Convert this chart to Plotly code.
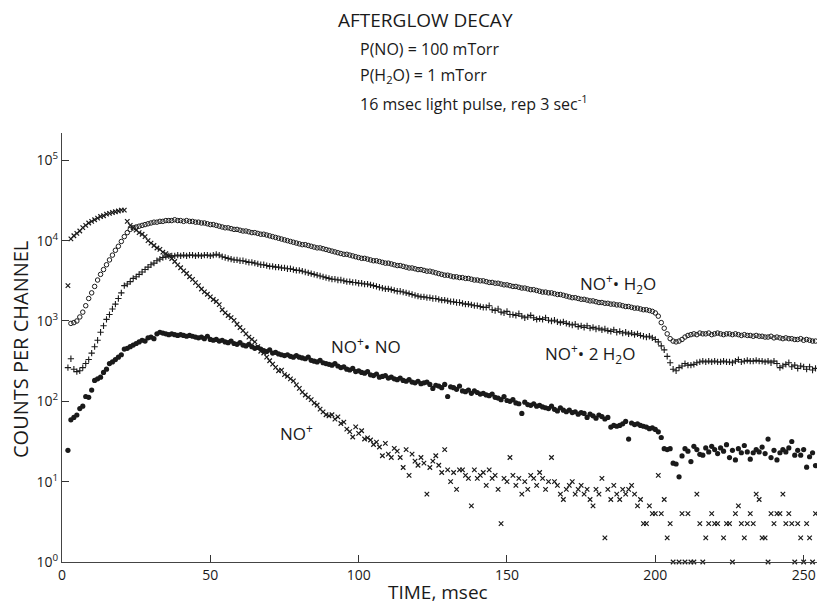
import plotly.graph_objects as go

# ---------------- data ----------------
# time axis: one channel per msec; each series lists values from its first channel
x_tick_vals = [0, 50, 100, 150, 200, 250]
x_tick_text = ["0", "50", "100", "150", "200", "250"]
y_tick_vals = [1, 10, 100, 1000, 10000, 100000]
y_tick_text = ["10<sup>0</sup>", "10<sup>1</sup>", "10<sup>2</sup>",
               "10<sup>3</sup>", "10<sup>4</sup>", "10<sup>5</sup>"]

# NO+ . H2O  (open circles), log10(counts), channels 3..254
h2o_start = 3
no_h2o_log = [
    2.97, 2.98, 3.00, 3.05, 3.11, 3.19, 3.28, 3.35, 3.43, 3.51,
    3.58, 3.64, 3.70, 3.76, 3.82, 3.88, 3.93, 3.99, 4.05, 4.10,
    4.14, 4.16, 4.17, 4.18, 4.19, 4.20, 4.21, 4.22, 4.23, 4.23,
    4.24, 4.24, 4.25, 4.25, 4.25, 4.26, 4.25, 4.25, 4.24, 4.25,
    4.24, 4.24, 4.23, 4.23, 4.22, 4.22, 4.21, 4.20, 4.20, 4.19,
    4.18, 4.17, 4.16, 4.16, 4.15, 4.14, 4.14, 4.13, 4.12, 4.12,
    4.11, 4.10, 4.10, 4.09, 4.08, 4.08, 4.07, 4.06, 4.05, 4.04,
    4.03, 4.02, 4.01, 4.00, 3.99, 3.98, 3.97, 3.96, 3.95, 3.95,
    3.94, 3.93, 3.92, 3.91, 3.91, 3.90, 3.89, 3.88, 3.87, 3.86,
    3.85, 3.84, 3.83, 3.83, 3.82, 3.81, 3.80, 3.79, 3.78, 3.78,
    3.77, 3.76, 3.75, 3.75, 3.74, 3.73, 3.72, 3.72, 3.71, 3.70,
    3.69, 3.69, 3.68, 3.67, 3.66, 3.66, 3.65, 3.64, 3.64, 3.63,
    3.62, 3.62, 3.61, 3.60, 3.59, 3.58, 3.57, 3.57, 3.56, 3.55,
    3.55, 3.54, 3.54, 3.53, 3.53, 3.52, 3.51, 3.51, 3.50, 3.50,
    3.49, 3.48, 3.48, 3.47, 3.47, 3.46, 3.45, 3.45, 3.44, 3.43,
    3.43, 3.42, 3.41, 3.41, 3.40, 3.39, 3.39, 3.38, 3.37, 3.36,
    3.36, 3.35, 3.35, 3.34, 3.33, 3.33, 3.32, 3.31, 3.30, 3.29,
    3.29, 3.28, 3.27, 3.27, 3.26, 3.25, 3.25, 3.24, 3.23, 3.23,
    3.22, 3.22, 3.21, 3.21, 3.20, 3.20, 3.19, 3.18, 3.18, 3.17,
    3.16, 3.16, 3.15, 3.14, 3.14, 3.13, 3.12, 3.10, 3.06, 2.98,
    2.91, 2.84, 2.78, 2.75, 2.74, 2.75, 2.77, 2.80, 2.82, 2.83,
    2.84, 2.83, 2.85, 2.84, 2.84, 2.85, 2.83, 2.84, 2.85, 2.84,
    2.83, 2.84, 2.84, 2.83, 2.84, 2.83, 2.82, 2.83, 2.82, 2.82,
    2.81, 2.82, 2.81, 2.81, 2.80, 2.80, 2.81, 2.79, 2.80, 2.79,
    2.78, 2.79, 2.78, 2.78, 2.77, 2.77, 2.78, 2.76, 2.77, 2.76,
    2.75, 2.75,
]

# NO+ . 2 H2O  (plus signs), log10(counts), channels 2..254
h2o2_start = 2
no_2h2o_log = [
    2.42, 2.53, 2.40, 2.37, 2.38, 2.42, 2.47, 2.52, 2.60, 2.68,
    2.76, 2.86, 2.94, 3.02, 3.08, 3.15, 3.21, 3.28, 3.35, 3.44,
    3.46, 3.49, 3.53, 3.55, 3.58, 3.61, 3.64, 3.67, 3.70, 3.72,
    3.75, 3.77, 3.79, 3.80, 3.81, 3.81, 3.81, 3.82, 3.81, 3.82,
    3.81, 3.82, 3.82, 3.81, 3.82, 3.81, 3.82, 3.82, 3.81, 3.82,
    3.83, 3.82, 3.80, 3.79, 3.78, 3.77, 3.76, 3.76, 3.75, 3.75,
    3.74, 3.73, 3.73, 3.72, 3.71, 3.70, 3.70, 3.69, 3.68, 3.68,
    3.67, 3.67, 3.66, 3.66, 3.65, 3.65, 3.64, 3.63, 3.63, 3.62,
    3.61, 3.60, 3.59, 3.58, 3.57, 3.56, 3.55, 3.54, 3.53, 3.52,
    3.52, 3.51, 3.51, 3.50, 3.49, 3.49, 3.48, 3.48, 3.47, 3.47,
    3.46, 3.46, 3.45, 3.44, 3.43, 3.42, 3.41, 3.40, 3.40, 3.39,
    3.38, 3.37, 3.37, 3.36, 3.35, 3.34, 3.33, 3.32, 3.31, 3.30,
    3.30, 3.29, 3.29, 3.28, 3.28, 3.27, 3.26, 3.26, 3.25, 3.24,
    3.24, 3.23, 3.23, 3.22, 3.21, 3.21, 3.20, 3.19, 3.19, 3.18,
    3.17, 3.17, 3.19, 3.14, 3.13, 3.15, 3.11, 3.10, 3.12, 3.08,
    3.08, 3.07, 3.09, 3.06, 3.04, 3.05, 3.07, 3.04, 3.02, 3.03,
    3.02, 3.04, 3.01, 3.00, 3.01, 2.99, 2.98, 2.99, 2.97, 2.96,
    2.95, 2.96, 2.93, 2.94, 2.92, 2.94, 2.91, 2.92, 2.90, 2.91,
    2.89, 2.90, 2.88, 2.87, 2.89, 2.86, 2.87, 2.85, 2.86, 2.84,
    2.85, 2.83, 2.84, 2.82, 2.81, 2.80, 2.81, 2.79, 2.77, 2.74,
    2.69, 2.64, 2.56, 2.48, 2.40, 2.38, 2.42, 2.44, 2.47, 2.45,
    2.45, 2.46, 2.48, 2.49, 2.50, 2.49, 2.50, 2.49, 2.50, 2.49,
    2.49, 2.50, 2.49, 2.49, 2.48, 2.50, 2.52, 2.49, 2.50, 2.51,
    2.50, 2.50, 2.51, 2.50, 2.50, 2.49, 2.50, 2.48, 2.50, 2.47,
    2.42, 2.44, 2.46, 2.48, 2.43, 2.45, 2.41, 2.44, 2.43, 2.40,
    2.43, 2.39, 2.41,
]

# NO+ . NO  (filled dots), log10(counts), channels 2..254
nono_start = 2
no_no_log = [
    1.39, 1.77, 1.80, 1.83, 1.91, 1.94, 2.06, 2.05, 2.14, 2.26,
    2.28, 2.30, 2.36, 2.40, 2.47, 2.49, 2.52, 2.55, 2.58, 2.65,
    2.66, 2.68, 2.70, 2.72, 2.74, 2.76, 2.75, 2.79, 2.80, 2.78,
    2.84, 2.86, 2.85, 2.84, 2.83, 2.84, 2.83, 2.82, 2.83, 2.82,
    2.81, 2.82, 2.81, 2.80, 2.79, 2.80, 2.78, 2.81, 2.77, 2.76,
    2.77, 2.75, 2.76, 2.74, 2.73, 2.75, 2.72, 2.71, 2.73, 2.70,
    2.69, 2.71, 2.68, 2.66, 2.67, 2.65, 2.63, 2.62, 2.64, 2.60,
    2.61, 2.59, 2.58, 2.57, 2.58, 2.56, 2.55, 2.57, 2.55, 2.54,
    2.53, 2.55, 2.51, 2.50, 2.49, 2.51, 2.48, 2.47, 2.46, 2.45,
    2.47, 2.44, 2.42, 2.43, 2.40, 2.39, 2.41, 2.37, 2.38, 2.36,
    2.35, 2.37, 2.33, 2.32, 2.34, 2.30, 2.31, 2.32, 2.29, 2.30,
    2.28, 2.27, 2.29, 2.26, 2.25, 2.27, 2.24, 2.23, 2.25, 2.22,
    2.23, 2.24, 2.21, 2.16, 2.20, 2.19, 2.17, 2.21, 2.06, 2.18,
    2.17, 2.15, 2.19, 2.13, 2.12, 2.14, 2.10, 2.13, 2.11, 2.09,
    2.10, 2.08, 2.07, 2.09, 2.05, 2.04, 2.02, 2.06, 2.01, 2.00,
    2.02, 1.98, 1.97, 1.85, 1.99, 1.96, 1.95, 1.97, 1.94, 1.95,
    1.93, 1.92, 1.91, 1.94, 1.90, 1.88, 1.92, 1.89, 1.87, 1.89,
    1.86, 1.87, 1.84, 1.86, 1.85, 1.80, 1.84, 1.82, 1.79, 1.83,
    1.81, 1.78, 1.80, 1.68, 1.70, 1.69, 1.70, 1.72, 1.75, 1.53,
    1.73, 1.71, 1.72, 1.70, 1.69, 1.68, 1.66, 1.67, 1.65, 1.62,
    1.55, 1.41, 1.40, 1.41, 1.23, 1.22, 1.06, 1.32, 1.41, 1.38,
    1.25, 1.44, 1.40, 1.34, 1.33, 1.42, 1.37, 1.44, 1.40, 1.35,
    1.42, 1.38, 1.46, 1.30, 1.39, 1.27, 1.41, 1.36, 1.45, 1.37,
    1.28, 1.36, 1.40, 1.37, 1.43, 1.35, 1.53, 1.30, 1.39, 1.27,
    1.36, 1.40, 1.37, 1.42, 1.50, 1.33, 1.39, 1.33, 1.40, 1.18,
    1.31, 1.36, 1.20,
]

# NO+  (x marks), counts, channels 2..254 (None = empty channel)
noplus_start = 2
no_plus_counts = [
    2750, 10500, 11500, 12300, 13200, 14500, 15500, 16600, 17400, 18200,
    19100, 20000, 20400, 21400, 21900, 22400, 22900, 23400, 24000, 24000,
    17400, 15500, 14500, 13500, 12600, 12000, 11200, 10000, 9300, 8700,
    8100, 7800, 7200, 6900, 6500, 6000, 5500, 5000, 4600, 4200,
    3900, 3550, 3300, 3000, 2750, 2500, 2300, 2150, 2000, 1850,
    1750, 1600, 1380, 1260, 1170, 1100, 1020, 910, 830, 760,
    690, 630, 590, 550, 480, 420, 400, 355, 320, 290,
    265, 240, 245, 215, 205, 190, 180, 160, 145, 130,
    120, 112, 105, 95, 90, 80, 74, 68, 66, 68,
    60, 64, 53, 55, 45, 42, 36, 48, 40, 43,
    34, 35, 33, 29, 31, 27, 21, 30, 22, 20,
    26, 24, 20, 15, 25, 12, 22, 18, 16, 20,
    17, 7, 15, 18, 21, 16, 13, 25, 14, 10,
    13, 8, 14, 14, 12, 11, 5, 14, 11, 12,
    13, 9, 14, 11, 12, 8, 3, 11, 10, 20,
    12, 9, 11, 7, 10, 8, 12, 11, 9, 13,
    11, 8, 10, 20, 10, 9, 7, 6, 8, 9,
    10, 7, 8, 9, 7, 8, 6, 5, 8, 7,
    11, 2, 8, 6, 9, 7, 6, 8, 7, 8,
    9, 7, 5, 6, 3, 3, 5, 4, 4, 12,
    4, 6, 2, 3, 1, None, 1, 4, 1, 4,
    1, 1, 7, 3, 1, 2, 3, 4, 3, 3,
    None, 2, 3, 3, 1, 4, 5, 3, 2, 3,
    4, 3, 7, 6, 2, 2, 1, 4, 3, 4,
    4, 7, 3, 4, 3, 1, 3, 2, 1, 3,
    2, 1, 4,
]


def to_xy(start, vals, is_log):
    xs, ys = [], []
    for i, v in enumerate(vals):
        if v is None:
            continue
        xs.append(start + i)
        ys.append(10 ** v if is_log else v)
    return xs, ys


FONT = "Open Sans, Liberation Sans, sans-serif"
INK = "#1a1a1a"

fig = go.Figure()

x, y = to_xy(h2o_start, no_h2o_log, True)
fig.add_trace(go.Scatter(x=x, y=y, mode="markers", name="NO+ . H2O",
                         marker=dict(symbol="circle-open", size=4.5, color=INK,
                                     line=dict(width=1, color=INK))))
x, y = to_xy(h2o2_start, no_2h2o_log, True)
fig.add_trace(go.Scatter(x=x, y=y, mode="markers", name="NO+ . 2 H2O",
                         marker=dict(symbol="cross-thin-open", size=4.5, color=INK,
                                     line=dict(width=1.1, color=INK))))
x, y = to_xy(nono_start, no_no_log, True)
fig.add_trace(go.Scatter(x=x, y=y, mode="markers", name="NO+ . NO",
                         marker=dict(symbol="circle", size=5.2, color=INK)))
x, y = to_xy(noplus_start, no_plus_counts, False)
fig.add_trace(go.Scatter(x=x, y=y, mode="markers", name="NO+", cliponaxis=False,
                         marker=dict(symbol="x-thin-open", size=4.5, color=INK,
                                     line=dict(width=1.2, color=INK))))

# plot area in pixels: left 62, right 817, top 133, bottom 562
L, R, T, B = 62, 817, 133, 562


def px(xp):
    return (xp - L) / (R - L)


def py(yp):
    return (B - yp) / (B - T)


def note(text, xp, yp, size, anchor="left"):
    return dict(text=text, xref="paper", yref="paper", x=px(xp), y=py(yp),
                xanchor=anchor, yanchor="middle", showarrow=False,
                font=dict(family=FONT, size=size, color=INK))


annotations = [
    note("AFTERGLOW DECAY", 336, 20, 19),
    note("P(NO) = 100 mTorr", 358, 49, 16),
    note("P(H<sub>2</sub>O) = 1 mTorr", 358, 76, 16),
    note("16 msec light pulse, rep 3 sec<sup>-1</sup>", 358, 103, 16),
    note("NO<sup>+</sup>• H<sub>2</sub>O", 578, 283, 17),
    note("NO<sup>+</sup>• 2 H<sub>2</sub>O", 543, 353, 17),
    note("NO<sup>+</sup>• NO", 329, 345, 17),
    note("NO<sup>+</sup>", 278, 432, 17),
    note("TIME, msec", 438, 592, 19, anchor="center"),
    dict(text="COUNTS PER CHANNEL", xref="paper", yref="paper",
         x=px(20), y=py(350), xanchor="center", yanchor="middle",
         textangle=-90, showarrow=False,
         font=dict(family=FONT, size=20, color=INK)),
]

fig.update_layout(
    width=817, height=607,
    margin=dict(l=L, r=817 - R, t=T, b=607 - B),
    paper_bgcolor="white", plot_bgcolor="white",
    showlegend=False,
    font=dict(family=FONT, color=INK),
    annotations=annotations,
    xaxis=dict(range=[0, 254.5], tickvals=x_tick_vals, ticktext=x_tick_text,
               ticks="inside", ticklen=7, tickcolor="#333", tickwidth=1,
               showline=True, linecolor="#444", linewidth=1.2,
               showgrid=False, zeroline=False,
               tickfont=dict(family=FONT, size=14, color=INK)),
    yaxis=dict(type="log", range=[0, 5.34], tickvals=y_tick_vals,
               ticktext=y_tick_text,
               ticks="inside", ticklen=7, tickcolor="#333", tickwidth=1,
               showline=True, linecolor="#444", linewidth=1.2,
               showgrid=False, zeroline=False,
               tickfont=dict(family=FONT, size=14, color=INK)),
)

fig.write_html("out.html")
